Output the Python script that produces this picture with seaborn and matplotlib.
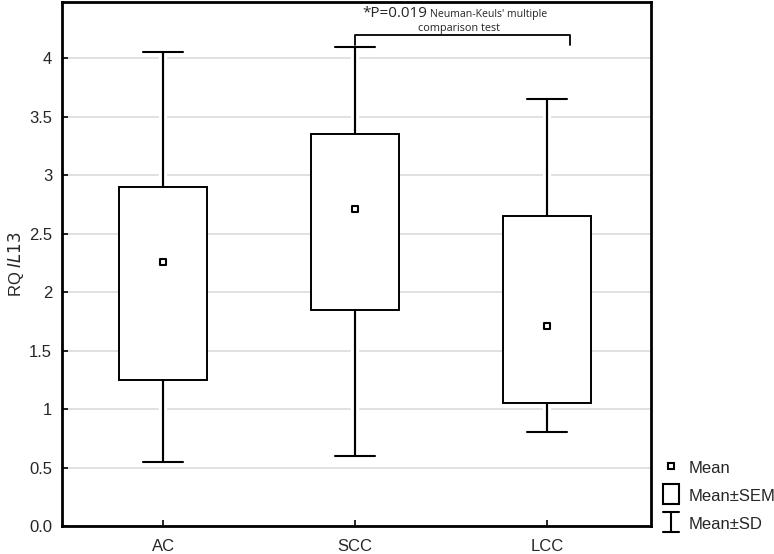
import matplotlib
matplotlib.use("Agg")
import matplotlib.pyplot as plt
import matplotlib.patheffects as pe
import seaborn as sns
import pandas as pd
from matplotlib.lines import Line2D
from matplotlib.patches import Rectangle
from matplotlib.legend_handler import HandlerBase

# valeurs
groups = ["AC", "SCC", "LCC"]
means = [2.26, 2.71, 1.71]
sem_low = [1.25, 1.85, 1.05]
sem_high = [2.90, 3.35, 2.65]
sd_low = [0.55, 0.60, 0.80]
sd_high = [4.05, 4.10, 3.65]
yticks = [0, 0.5, 1, 1.5, 2, 2.5, 3, 3.5, 4]
ytick_labels = ["0.0", "0.5", "1", "1.5", "2", "2.5", "3", "3.5", "4"]

sns.set_style("white")
plt.rcParams['font.family'] = ['Liberation Sans', 'DejaVu Sans']
annot_font = ['Open Sans', 'DejaVu Sans']

fig = plt.figure(figsize=(7.74, 5.54), dpi=100)
ax = fig.add_axes([0.080, 0.0505, 0.761, 0.9455])

# boites Mean±SEM et moustaches Mean±SD
stats = []
for g, m, lo, hi, wl, wh in zip(groups, means, sem_low, sem_high, sd_low, sd_high):
    stats.append({"label": g, "med": m, "q1": lo, "q3": hi,
                  "whislo": wl, "whishi": wh, "fliers": []})
bp = ax.bxp(stats, positions=range(len(groups)), widths=0.46, showfliers=False,
            patch_artist=True,
            boxprops=dict(facecolor="white", edgecolor="black", linewidth=1.4),
            whiskerprops=dict(color="black", linewidth=1.5),
            capprops=dict(color="black", linewidth=1.5),
            medianprops=dict(linewidth=0), capwidths=0.21)
for l in bp["whiskers"]:
    l.set_path_effects([pe.withStroke(linewidth=6, foreground="white", capstyle="butt"), pe.Normal()])
    l.set_zorder(2)
for b in bp["boxes"]:
    b.set_zorder(3)
for c in bp["caps"]:
    c.set_zorder(3)

df = pd.DataFrame({"group": groups, "mean": means})
sns.scatterplot(data=df, x=range(len(groups)), y="mean", marker="s", s=24,
                facecolor="white", edgecolor="black", linewidth=1.5, ax=ax, zorder=5)

ax.set_xlim(-0.527, 2.54)
ax.set_ylim(0, 4.48)
ax.set_xticks(range(len(groups)))
ax.set_xticklabels(groups, fontsize=12)
ax.set_yticks(yticks)
ax.set_yticklabels(ytick_labels, fontsize=12)
ax.set_xlabel("")
ax.set_ylabel(r"RQ $\it{IL13}$", fontsize=12, labelpad=2)
ax.yaxis.grid(True, color="#dcdcdc", linewidth=1.2)
ax.set_axisbelow(True)
ax.tick_params(direction="in", length=4, width=1.2, color="black", left=True, bottom=True)
ax.tick_params(axis="x", pad=9)
ax.tick_params(axis="y", pad=7)
for s in ax.spines.values():
    s.set_color("black")
    s.set_linewidth(2)

# crochet de significativite
ax.plot([1.0, 1.0, 2.12, 2.12], [4.11, 4.20, 4.20, 4.11], color="black", lw=1.3)
ax.text(1.035, 4.385, "*P=0.019", fontsize=11, family=annot_font, va="center")
ax.text(1.39, 4.378, "Neuman-Keuls' multiple", fontsize=7.6, family=annot_font, va="center")
ax.text(1.54, 4.255, "comparison test", fontsize=7.8, family=annot_font, va="center", ha="center")


# legende : marqueur carre, boite et poutre en I
class BoxHandler(HandlerBase):
    def create_artists(self, legend, orig, xd, yd, width, height, fontsize, trans):
        cy = yd + height / 2 - 3.5
        r = Rectangle((xd + width / 2 - 5.5, cy - 7.2), 11, 14.4,
                      facecolor="white", edgecolor="black", linewidth=1.5, transform=trans)
        return [r]


class IHandler(HandlerBase):
    def create_artists(self, legend, orig, xd, yd, width, height, fontsize, trans):
        cx = xd + width / 2
        cy = yd + height / 2 - 4
        lines = [
            Line2D([cx, cx], [cy - 7, cy + 7], color="black", lw=1.5, transform=trans),
            Line2D([cx - 5.5, cx + 5.5], [cy + 7, cy + 7], color="black", lw=1.5, transform=trans),
            Line2D([cx - 5.5, cx + 5.5], [cy - 7, cy - 7], color="black", lw=1.5, transform=trans),
        ]
        return lines


mean_h = Line2D([], [], marker="s", linestyle="none", markersize=5, markerfacecolor="white",
                markeredgecolor="black", markeredgewidth=1.5)
sem_h = Rectangle((0, 0), 1, 1)
sd_h = Line2D([], [])
fig.legend([mean_h, sem_h, sd_h], ["Mean", "Mean±SEM", "Mean±SD"], loc="lower left",
           bbox_to_anchor=(0.856, 0.04), frameon=False, fontsize=12,
           handler_map={sem_h: BoxHandler(), sd_h: IHandler()},
           handlelength=1.0, handleheight=1.25, handletextpad=0.55, labelspacing=0.62,
           borderaxespad=0, borderpad=0)

fig.savefig("out.png", dpi=100)
